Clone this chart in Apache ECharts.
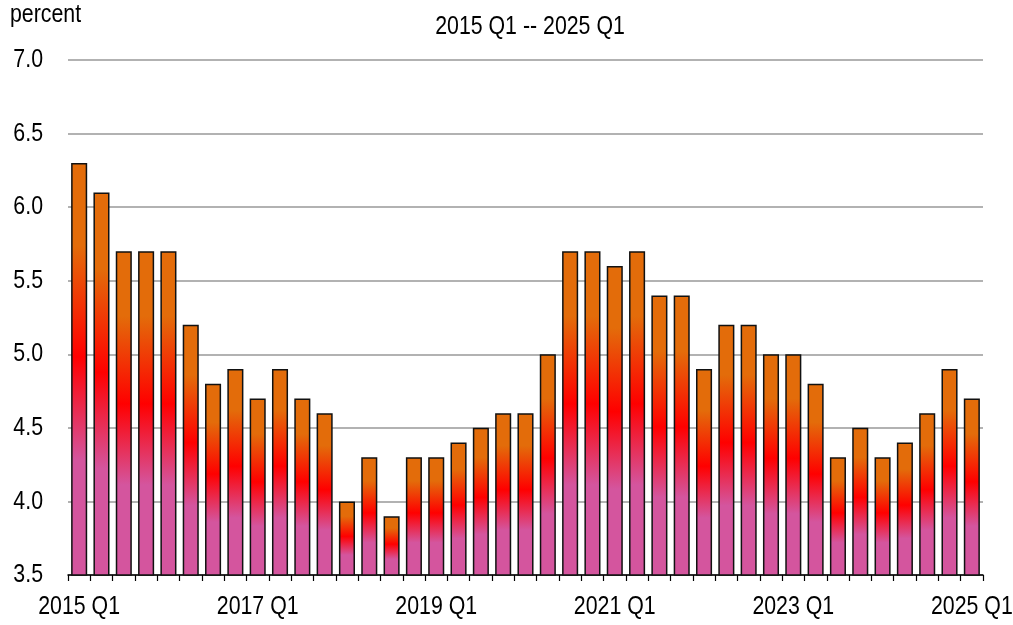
<!DOCTYPE html>
<html><head><meta charset="utf-8">
<script src="https://cdn.jsdelivr.net/npm/echarts@6/dist/echarts.min.js"></script>
<style>html,body{margin:0;padding:0;background:#fff}#c{width:1013px;height:625px}</style>
</head><body><div id="c"></div>
<script>
const categories = [];
for (let y = 2015; y <= 2025; y++) for (let q = 1; q <= 4; q++) { if (y === 2025 && q > 1) break; categories.push(y + ' Q' + q); }
const values = [6.3,6.1,5.7,5.7,5.7,5.2,4.8,4.9,4.7,4.9,4.7,4.6,4.0,4.3,3.9,4.3,4.3,4.4,4.5,4.6,4.6,5.0,5.7,5.7,5.6,5.7,5.4,5.4,4.9,5.2,5.2,5.0,5.0,4.8,4.3,4.5,4.3,4.4,4.6,4.9,4.7];
const yTicks = ['3.5','4.0','4.5','5.0','5.5','6.0','6.5','7.0'];
const xLabelEvery = 8;
const subtitle = '2015 Q1 -- 2025 Q1';
const unitLabel = 'percent';

const FONT = '26px "Liberation Sans", Arial, sans-serif';
const NARROW = 0.82;
const chart = echarts.init(document.getElementById('c'), null, {renderer: 'canvas'});
const grad = new echarts.graphic.LinearGradient(0, 0, 0, 1, [
  {offset: 0, color: '#E36C0A'},
  {offset: 0.2, color: '#E36C0A'},
  {offset: 0.47, color: '#FF0000'},
  {offset: 0.72, color: '#D4559E'},
  {offset: 1, color: '#D4559E'}
]);
chart.setOption({
  animation: false,
  grid: {left: 68, right: 30, top: 60, bottom: 50, containLabel: false},
  xAxis: {
    type: 'category', data: categories, boundaryGap: true,
    axisLine: {lineStyle: {color: '#000', width: 1.5}},
    axisTick: {show: true, interval: 0, length: 6, lineStyle: {color: '#000', width: 1.2}},
    axisLabel: {show: false}
  },
  yAxis: {
    type: 'value', min: 3.5, max: 7.0, interval: 0.5,
    axisLine: {show: false}, axisTick: {show: false},
    axisLabel: {show: false},
    splitLine: {lineStyle: {color: '#999', width: 1.5}}
  },
  series: [{
    type: 'bar', data: values, barWidth: '72%',
    itemStyle: {color: grad, borderColor: '#111', borderWidth: 1.5}
  }]
});

function txt(text, x, y, align) {
  return {type: 'text', x: x, y: y, scaleX: NARROW, scaleY: 1, silent: true,
    style: {text: text, font: FONT, fill: '#000', textAlign: align, align: align,
            textVerticalAlign: 'middle', verticalAlign: 'middle'}};
}
const els = [];
const axisY = chart.convertToPixel({yAxisIndex: 0}, 3.5);
categories.forEach((c, i) => {
  if (i % xLabelEvery === 0) els.push(txt(c, chart.convertToPixel({xAxisIndex: 0}, c), axisY + 32, 'center'));
});
yTicks.forEach(t => {
  els.push(txt(t, 43, chart.convertToPixel({yAxisIndex: 0}, parseFloat(t)), 'right'));
});
els.push(txt(subtitle, 530, 27, 'center'));
els.push(txt(unitLabel, 10, 15, 'left'));
chart.setOption({graphic: {elements: els}});
</script></body></html>
